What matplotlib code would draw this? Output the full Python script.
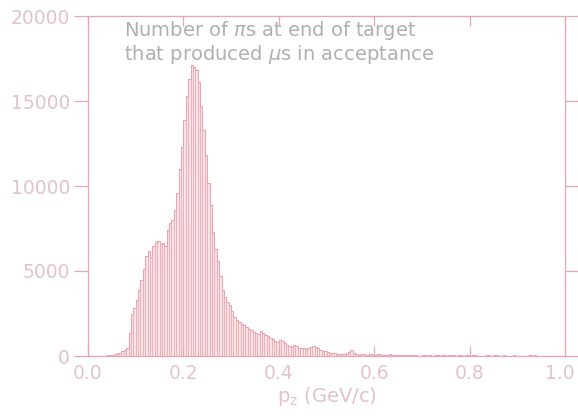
import numpy as np
import matplotlib
matplotlib.use('Agg')
import matplotlib.pyplot as plt
import matplotlib.transforms as mtransforms

# bin edges: 200 bins of 0.005 GeV/c from 0 to 1
bin_lo = 0.0
bin_hi = 1.0
n_bins = 200

# counts per bin
counts = [
    0, 0, 0, 0, 0, 0, 10, 20, 30, 50,
    80, 110, 150, 200, 270, 350, 480, 1350, 2500, 2800,
    3300, 3900, 4450, 5100, 5900, 6150, 5850, 6500, 6700, 6750,
    6600, 6650, 6500, 7400, 7800, 8000, 8600, 9600, 11000, 12300,
    13900, 15300, 16300, 17100, 17000, 16800, 16100, 14700, 13300, 11800,
    10200, 8900, 7300, 6300, 5600, 4700, 3900, 3500, 3200, 3000,
    2650, 2300, 2100, 2000, 1900, 1800, 1700, 1600, 1550, 1400,
    1350, 1300, 1450, 1350, 1250, 1150, 1050, 1000, 900, 850,
    950, 900, 750, 650, 600, 550, 650, 600, 500, 480,
    450, 420, 500, 550, 600, 520, 450, 350, 300, 280,
    220, 200, 160, 150, 140, 120, 100, 120, 150, 250,
    380, 200, 100, 80, 120, 90, 60, 80, 100, 70,
    50, 90, 110, 80, 60, 70, 90, 60, 50, 80,
    60, 40, 50, 70, 40, 30, 50, 30, 20, 0,
    30, 40, 20, 30, 0, 40, 30, 20, 50, 30,
    20, 40, 30, 60, 20, 30, 40, 0, 50, 30,
    20, 80, 30, 0, 0, 0, 0, 30, 20, 0,
    40, 30, 0, 20, 30, 0, 0, 20, 40, 0,
    0, 0, 0, 0, 0, 30, 20, 30, 20, 0,
    0, 0, 0, 0, 0, 0, 0, 0, 0, 0,
]

x_ticks = [0.0, 0.2, 0.4, 0.6, 0.8, 1.0]
x_tick_labels = ['0.0', '0.2', '0.4', '0.6', '0.8', '1.0']
y_ticks = [0, 5000, 10000, 15000, 20000]

title_lines = [r'Number of $\pi$s at end of target',
               r'that produced $\mu$s in acceptance']
x_label = r'p$_{\rm z}$ (GeV/c)'

edges = np.linspace(bin_lo, bin_hi, n_bins + 1)
counts = np.array(counts)

pink = '#e9a6b0'
fill = '#f8e3e6'
label_col = '#e2c3c9'
text_col = '#b0b0b0'

plt.rcParams['font.family'] = ['DejaVu Sans']

fig = plt.figure(figsize=(5.78, 4.16), dpi=100)
ax = fig.add_axes([88/578, 60/416, 477/578, 340/416])

ax.bar(edges[:-1], counts, width=edges[1]-edges[0], align='edge',
       facecolor=fill, edgecolor=pink, linewidth=0.5)
ax.stairs(counts, edges, color=pink, linewidth=0.8)

ax.set_xlim(bin_lo, bin_hi)
ax.set_ylim(0, 20000)

for s in ax.spines.values():
    s.set_color(pink)
    s.set_linewidth(0.9)

ax.set_xticks(x_ticks)
ax.set_xticklabels(x_tick_labels)
ax.set_yticks(y_ticks)
ax.tick_params(axis='x', direction='in', top=True, bottom=True, length=7,
               width=0.9, color=pink, labelcolor=label_col, labelsize=13.5, pad=6)
ax.tick_params(axis='y', direction='out', left=True, right=True, length=10,
               width=0.9, color=pink, labelcolor=label_col, labelsize=13.5, pad=3)

# nudge the last x label so it stays inside the picture
last = ax.get_xticklabels()[-1]
last.set_transform(last.get_transform() +
                   mtransforms.ScaledTranslation(-5/100, 0, fig.dpi_scale_trans))

ax.set_xlabel(x_label, color=label_col, fontsize=14, labelpad=1)

ax.text(0.075, 0.99, title_lines[0], transform=ax.transAxes, color=text_col,
        fontsize=14, va='top', ha='left')
ax.text(0.075, 0.92, title_lines[1], transform=ax.transAxes, color=text_col,
        fontsize=14, va='top', ha='left')

fig.savefig('out.png', dpi=100)
